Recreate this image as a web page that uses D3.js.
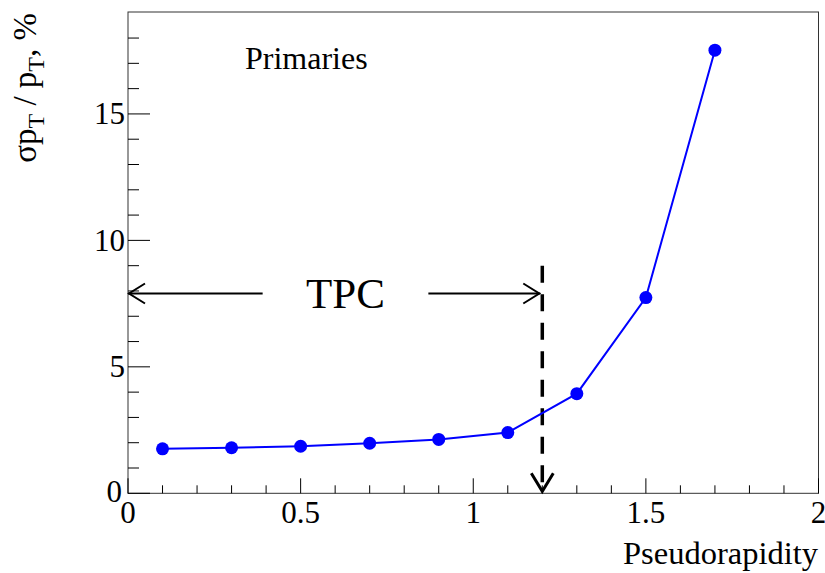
<!DOCTYPE html>
<html>
<head>
<meta charset="utf-8">
<script src="https://cdn.jsdelivr.net/npm/d3@7"></script>
<style>
  body { margin: 0; background: #fff; }
  text { font-family: "Liberation Serif", "DejaVu Serif", serif; fill: #000; }
</style>
</head>
<body>
<div id="plotdiv"></div>
<script>
// data
const eta = [0.1, 0.3, 0.5, 0.7, 0.9, 1.1, 1.3, 1.5, 1.7];
const resolution = [1.76, 1.8, 1.86, 1.98, 2.13, 2.4, 3.94, 7.74, 17.52];
const xMajorTicks = [0, 0.5, 1, 1.5, 2];
const yMajorTicks = [0, 5, 10, 15];
const tpcLimit = 1.2;
const tpcArrowY = 7.9;
const dashTop = 9.0;

const W = 825, H = 573;
const margin = {top: 12, right: 6, bottom: 80, left: 128};

const svg = d3.select("#plotdiv")
  .append("svg")
  .attr("width", W)
  .attr("height", H);

// scales
const x = d3.scaleLinear().domain([0, 2]).range([margin.left, W - margin.right - 0.5]);
const y = d3.scaleLinear().domain([0, 19.03]).range([H - margin.bottom + 0.3, margin.top]);

// frame
svg.append("rect")
  .attr("x", x(0)).attr("y", y(19.03))
  .attr("width", x(2) - x(0)).attr("height", y(0) - y(19.03))
  .attr("fill", "none").attr("stroke", "#333").attr("stroke-width", 1);

// x axis ticks
const xMinor = d3.range(0, 2.001, 0.1);
svg.append("g").selectAll("line")
  .data(xMinor)
  .enter()
  .append("line")
  .attr("x1", d => x(d)).attr("x2", d => x(d))
  .attr("y1", y(0))
  .attr("y2", d => y(0) - (Math.abs(d * 2 - Math.round(d * 2)) < 1e-6 ? 15 : 8))
  .attr("stroke", "#000").attr("stroke-width", 1);

svg.append("g").selectAll("text")
  .data(xMajorTicks)
  .enter()
  .append("text")
  .attr("x", d => x(d))
  .attr("y", 523)
  .attr("text-anchor", "middle")
  .attr("font-size", 31)
  .text(d => d);

// y axis ticks
const yMinor = d3.range(0, 19, 1);
svg.append("g").selectAll("line")
  .data(yMinor)
  .enter()
  .append("line")
  .attr("x1", x(0))
  .attr("x2", d => x(0) + (d % 5 == 0 ? 22 : 11))
  .attr("y1", d => y(d)).attr("y2", d => y(d))
  .attr("stroke", "#000").attr("stroke-width", 1);

svg.append("g").selectAll("text")
  .data(yMajorTicks)
  .enter()
  .append("text")
  .attr("x", d => x(0) - (d == 0 ? 6 : 3))
  .attr("y", d => y(d) - (d == 0 ? 2 : 0))
  .attr("dy", "0.34em")
  .attr("text-anchor", "end")
  .attr("font-size", 31)
  .text(d => d);

// axis titles
svg.append("text")
  .attr("x", W - 7)
  .attr("y", 564)
  .attr("text-anchor", "end")
  .attr("font-size", 32.5)
  .text("Pseudorapidity");

const ylab = svg.append("text")
  .attr("transform", "translate(36,13) rotate(-90)")
  .attr("text-anchor", "end")
  .attr("font-size", 33);
ylab.append("tspan").text("σp");
ylab.append("tspan").attr("font-size", 24).attr("dy", 8).text("T");
ylab.append("tspan").attr("dy", -8).text(" / p");
ylab.append("tspan").attr("font-size", 24).attr("dy", 8).text("T");
ylab.append("tspan").attr("dy", -8).text(", %");

// Primaries label
svg.append("text")
  .attr("x", 245)
  .attr("y", 69)
  .attr("font-size", 32)
  .text("Primaries");

// TPC range arrows
const ay = y(tpcArrowY);
const arrows = svg.append("g")
  .attr("stroke", "#000").attr("stroke-width", 2).attr("fill", "none");
arrows.append("line").attr("x1", x(0)).attr("x2", x(0.39)).attr("y1", ay).attr("y2", ay);
arrows.append("line").attr("x1", x(0.87)).attr("x2", x(tpcLimit) - 2).attr("y1", ay).attr("y2", ay);
arrows.append("path").attr("d", `M${x(0) + 17},${ay - 10}L${x(0) + 1},${ay}L${x(0) + 17},${ay + 10}`);
arrows.append("path").attr("d", `M${x(tpcLimit) - 19},${ay - 10}L${x(tpcLimit) - 3},${ay}L${x(tpcLimit) - 19},${ay + 10}`);

svg.append("text")
  .attr("x", x(0.63))
  .attr("y", ay + 15)
  .attr("text-anchor", "middle")
  .attr("font-size", 43)
  .text("TPC");

// dashed limit with arrow
svg.append("line")
  .attr("x1", x(tpcLimit)).attr("x2", x(tpcLimit))
  .attr("y1", y(dashTop)).attr("y2", y(0) - 4)
  .attr("stroke", "#000").attr("stroke-width", 3.5)
  .attr("stroke-dasharray", "17,11.5");
svg.append("path")
  .attr("d", `M${x(tpcLimit) - 11},${y(0) - 20}L${x(tpcLimit)},${y(0) - 2}L${x(tpcLimit) + 11},${y(0) - 20}`)
  .attr("stroke", "#000").attr("stroke-width", 3).attr("fill", "none");

// data line and markers
const line = d3.line()
  .x((d, i) => x(eta[i]))
  .y(d => y(d));

svg.append("path")
  .datum(resolution)
  .attr("d", line)
  .attr("fill", "none")
  .attr("stroke", "#0000ff")
  .attr("stroke-width", 2);

svg.append("g").selectAll("circle")
  .data(resolution)
  .enter()
  .append("circle")
  .attr("cx", (d, i) => x(eta[i]))
  .attr("cy", d => y(d))
  .attr("r", 6.5)
  .attr("fill", "#0000ff");
</script>
</body>
</html>
